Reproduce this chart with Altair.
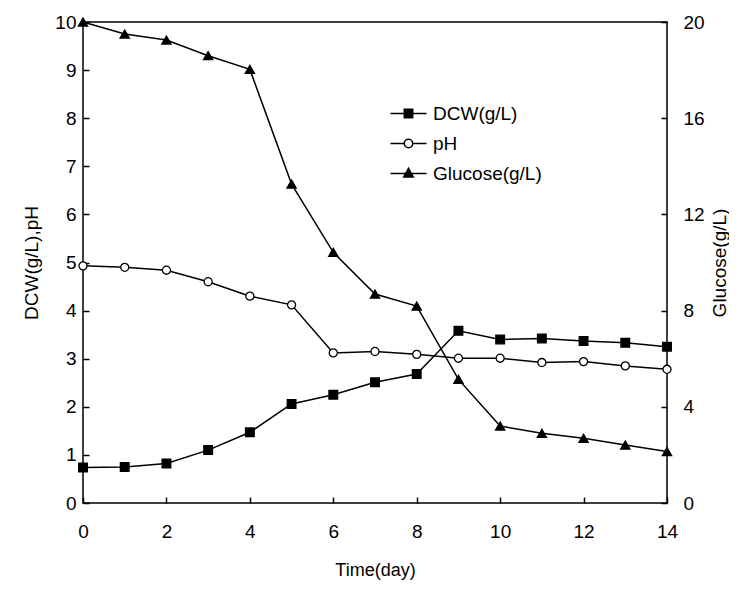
import altair as alt
import pandas as pd

# ---- data ----
days = list(range(15))
dcw = [0.74, 0.75, 0.82, 1.10, 1.47, 2.06, 2.25, 2.51, 2.68, 3.58, 3.40, 3.42, 3.37, 3.33, 3.25]
ph = [4.93, 4.90, 4.84, 4.60, 4.30, 4.12, 3.12, 3.15, 3.09, 3.01, 3.01, 2.92, 2.94, 2.85, 2.78]
glucose = [20.0, 19.5, 19.25, 18.6, 18.03, 13.26, 10.42, 8.69, 8.19, 5.14, 3.20, 2.90, 2.69, 2.41, 2.14]
series_names = ["DCW(g/L)", "pH", "Glucose(g/L)"]
x_ticks = [0, 2, 4, 6, 8, 10, 12, 14]
left_ticks = [0, 1, 2, 3, 4, 5, 6, 7, 8, 9, 10]
right_ticks = [0, 4, 8, 12, 16, 20]

df = pd.DataFrame({"day": days, "dcw": dcw, "ph": ph, "glucose": glucose})
legend_df = pd.DataFrame({"series": series_names})

W, H = 584, 481
FONT = "Liberation Sans"
LBL = 19
TTL = 18
VTTL = 19

xs = alt.Scale(domain=[0, 14], nice=False, zero=False)
yl = alt.Scale(domain=[0, 10], nice=False)
yr = alt.Scale(domain=[0, 20], nice=False)

x_main = alt.X("day:Q", scale=xs, axis=alt.Axis(
    values=x_ticks, tickSize=0, domain=False, grid=False, labelFlush=False,
    labelPadding=19, title="Time(day)", titlePadding=20,
    labelFontSize=LBL, titleFontSize=TTL))
x_none = alt.X("day:Q", scale=xs, axis=None)


def y_left(field):
    return alt.Y(f"{field}:Q", scale=yl, axis=alt.Axis(
        orient="left", values=left_ticks, tickSize=0, domain=False, grid=False,
        labelFlush=False, labelPadding=7, title="DCW(g/L),pH", titlePadding=13,
        labelFontSize=LBL, titleFontSize=VTTL))


y_right = alt.Y("glucose:Q", scale=yr, axis=alt.Axis(
    orient="right", values=right_ticks, tickSize=0, domain=False, grid=False,
    labelFlush=False, labelPadding=16, title="Glucose(g/L)", titlePadding=6,
    titleAngle=270, titleBaseline="top", labelFontSize=LBL, titleFontSize=VTTL))

base = alt.Chart(df)


def line(x, y):
    return base.mark_line(color="black", strokeWidth=1.5).encode(x=x, y=y)


def pts(x, y, shape, fill, size):
    return base.mark_point(shape=shape, filled=True, fill=fill, stroke="black",
                           strokeWidth=1.3, size=size, opacity=1).encode(x=x, y=y)


left_layer = alt.layer(
    line(x_main, y_left("dcw")),
    line(x_main, y_left("ph")),
    pts(x_main, y_left("dcw"), "square", "black", 75),
    pts(x_main, y_left("ph"), "circle", "white", 65),
)

right_layer = alt.layer(
    line(x_none, y_right),
    pts(x_none, y_right, "triangle-up", "black", 85),
)

# inward tick marks (bottom and left) drawn by mirrored axes
ticks_a = base.transform_filter("false").mark_point(opacity=0).encode(
    x=alt.X("day:Q", scale=xs, axis=alt.Axis(
        orient="top", offset=-H, values=x_ticks, tickSize=6, labels=False,
        domain=False, grid=False, title=None)),
    y=alt.Y("dcw:Q", scale=yl, axis=alt.Axis(
        orient="right", offset=-W, values=left_ticks, tickSize=6, labels=False,
        domain=False, grid=False, title=None)),
)
# inward tick marks (right)
ticks_b = base.transform_filter("false").mark_point(opacity=0).encode(
    x=x_none,
    y=alt.Y("glucose:Q", scale=yr, axis=alt.Axis(
        orient="left", offset=-W, values=right_ticks, tickSize=6, labels=False,
        domain=False, grid=False, title=None)),
)

# legend
p_sq = "M-3,0H3M-0.7,-0.7H0.7V0.7H-0.7Z"
p_ci = "M-3,0H-0.7M0.7,0H3M0.7,0A0.7,0.7 0 1,1 -0.7,0A0.7,0.7 0 1,1 0.7,0Z"
p_tr = "M-3,0H3M0,-0.85L0.8,0.6H-0.8Z"
leg = alt.Legend(title=None, orient="none", legendX=316, legendY=82,
                 symbolSize=144, symbolStrokeColor="black", symbolStrokeWidth=1.5,
                 symbolOpacity=1, labelOffset=15, labelFontSize=LBL, labelFont=FONT,
                 labelColor="black", rowPadding=10, padding=0)
legend_layer = alt.Chart(legend_df).transform_filter("false").mark_point(
    filled=True, strokeWidth=1.5, opacity=1).encode(
    shape=alt.Shape("series:N", scale=alt.Scale(domain=series_names, range=[p_sq, p_ci, p_tr]),
                    legend=leg, sort=series_names),
    fill=alt.Fill("series:N", scale=alt.Scale(domain=series_names, range=["black", "white", "black"]),
                  legend=leg, sort=series_names),
    stroke=alt.Stroke("series:N", scale=alt.Scale(domain=series_names, range=["black", "black", "black"]),
                      legend=leg, sort=series_names),
)

chart = alt.layer(left_layer, right_layer, ticks_a, ticks_b, legend_layer).resolve_scale(
    x="independent", y="independent"
).properties(
    width=W, height=H,
    padding={"left": 75, "top": 14, "right": 62, "bottom": 79},
    autosize=alt.AutoSizeParams(type="none"),
).configure_view(
    stroke="black", strokeWidth=1.5
).configure_axis(
    labelFont=FONT, titleFont=FONT, labelColor="black", titleColor="black",
    titleFontWeight="normal", tickColor="black", tickWidth=1.5
)

chart.save("out.html", embed_options={"renderer": "svg", "actions": False})
